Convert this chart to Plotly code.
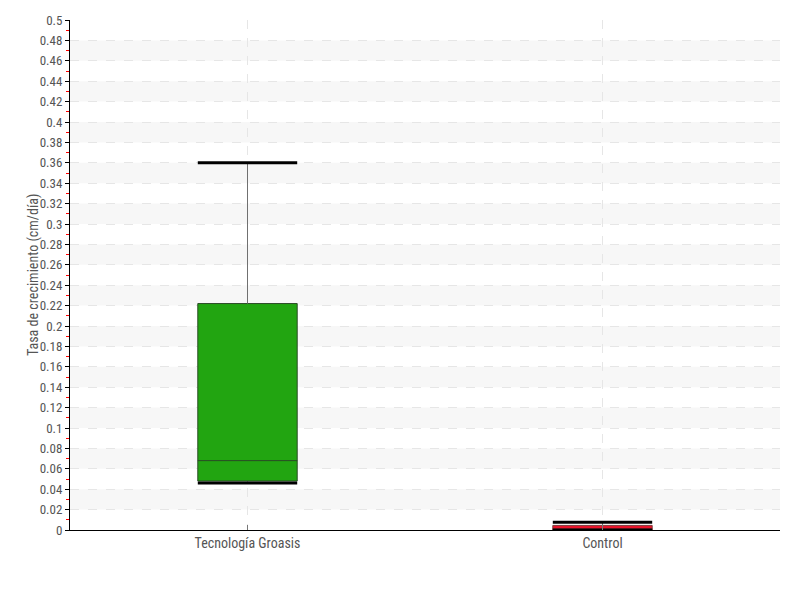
import plotly.graph_objects as go

categories = ["Tecnología Groasis", "Control"]
lower_whisker = [0.046, 0.0]
q1 = [0.048, 0.0]
median = [0.068, 0.0]
q3 = [0.222, 0.0045]
upper_whisker = [0.36, 0.0075]
fill_colors = ["#22a511", "#e8132a"]
border_colors = ["#2a4a26", "#7a3a3a"]

tick_vals = [round(i * 0.02, 2) for i in range(26)]
tick_text = ["0" if v == 0 else ("%g" % v) for v in tick_vals]
band_starts = [round(0.02 + 0.04 * i, 2) for i in range(12)]

FONT = "Liberation Sans Narrow, Roboto Condensed, Roboto, sans-serif"

fig = go.Figure()

for i, c in enumerate(categories):
    fig.add_trace(go.Scatter(x=[c, c], y=[q3[i], upper_whisker[i]], mode="lines",
                             line=dict(color="#707070", width=1), showlegend=False, hoverinfo="skip"))
    fig.add_trace(go.Scatter(x=[c, c], y=[lower_whisker[i], q1[i]], mode="lines",
                             line=dict(color="#707070", width=1), showlegend=False, hoverinfo="skip"))
    fig.add_trace(go.Box(x=[c], q1=[q1[i]], median=[median[i]], q3=[q3[i]],
                         lowerfence=[q1[i]], upperfence=[q3[i]],
                         fillcolor=fill_colors[i], line=dict(color=border_colors[i], width=1),
                         whiskerwidth=0, width=0.28, boxpoints=False, showlegend=False))
    fig.add_trace(go.Scatter(x=[c, c], y=[lower_whisker[i], upper_whisker[i]], mode="markers",
                             marker=dict(symbol="line-ew", size=71, color="black",
                                         line=dict(color="black", width=3)),
                             cliponaxis=True, showlegend=False, hoverinfo="skip"))

shapes = []
for b in band_starts:
    shapes.append(dict(type="rect", xref="paper", yref="y", x0=0, x1=1, y0=b, y1=b + 0.02,
                       fillcolor="#f7f7f7", line=dict(width=0), layer="below"))

fig.update_layout(
    width=800, height=600,
    margin=dict(l=62, r=28, t=12, b=78),
    plot_bgcolor="white", paper_bgcolor="white",
    font=dict(family=FONT, color="#555555", size=14),
    shapes=shapes,
    annotations=[dict(text="Tasa de crecimiento (cm/día)", textangle=-90, xref="paper", yref="paper",
                      x=0, y=0.5, xshift=-37, showarrow=False, xanchor="center", yanchor="middle",
                      font=dict(family=FONT, size=14, color="#555555"))],
    xaxis=dict(type="category", categoryorder="array", categoryarray=categories,
               showline=True, linecolor="black", linewidth=1,
               showgrid=True, gridcolor="#e6e6e6", griddash="dash", gridwidth=1,
               ticks="inside", ticklen=5, tickcolor="#777777",
               tickfont=dict(family=FONT, size=14, color="#555555"),
               range=[-0.5, 1.5], zeroline=False, automargin=False),
    yaxis=dict(range=[0, 0.5], tickvals=tick_vals, ticktext=tick_text,
               showline=True, linecolor="black", linewidth=1,
               showgrid=True, gridcolor="#e6e6e6", griddash="dash", gridwidth=1,
               ticks="outside", ticklen=4, tickcolor="black",
               minor=dict(dtick=0.02, tick0=0.01, ticks="outside", ticklen=3, tickcolor="red", showgrid=False),
               tickfont=dict(family=FONT, size=13, color="#555555"),
               zeroline=False, automargin=False),
)

fig.write_html("out.html")
